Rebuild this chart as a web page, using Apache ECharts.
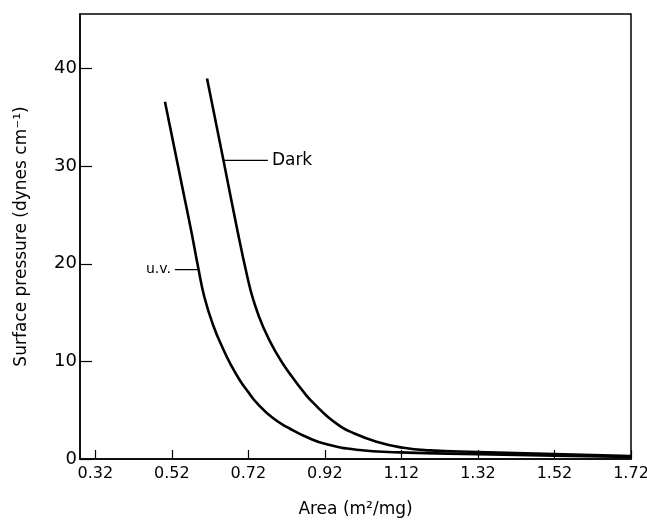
<!DOCTYPE html>
<html>
<head>
<meta charset="utf-8">
<script src="https://cdn.jsdelivr.net/npm/echarts@6/dist/echarts.min.js"></script>
<style>
html,body{margin:0;padding:0;background:#fff;}
#chart{width:647px;height:520px;}
</style>
</head>
<body>
<div id="chart"></div>
<script>
// values
var uvData=[[0.502,36.6],[0.554,26.6],[0.572,23.1],[0.589,19.6],[0.605,16.6],[0.628,13.7],[0.655,11.2],[0.675,9.6],[0.698,8.05],[0.72,6.85],[0.742,5.75],[0.785,4.17],[0.829,3.1],[0.872,2.25],[0.925,1.5],[1.003,0.95],[1.116,0.68],[1.32,0.5],[1.52,0.35],[1.72,0.2]];
var darkData=[[0.612,39.0],[0.655,30.6],[0.692,23.3],[0.716,18.9],[0.733,16.3],[0.759,13.5],[0.794,10.8],[0.829,8.7],[0.872,6.5],[0.90,5.35],[0.925,4.4],[0.955,3.5],[0.986,2.8],[1.055,1.77],[1.125,1.15],[1.195,0.88],[1.32,0.72],[1.52,0.5],[1.72,0.3]];
var darkLeader=[[0.655,30.6],[0.771,30.6]];
var uvLeader=[[0.528,19.4],[0.589,19.4]];
var xTicks=[0.32,0.52,0.72,0.92,1.12,1.32,1.52,1.72];
var yTicks=[0,10,20,30,40];

var font='DejaVu Sans';
var chart=echarts.init(document.getElementById('chart'));
chart.setOption({
    animation:false,
    textStyle:{fontFamily:font,color:'#000'},
    grid:{left:80,right:16,top:14,bottom:61,outerBoundsMode:'none',show:true,borderColor:'#000',borderWidth:1.5},
    xAxis:{
        type:'value',min:0.28,max:1.72,
        name:'Area (m²/mg)',nameLocation:'middle',nameGap:42,
        nameTextStyle:{fontSize:17,color:'#000',fontFamily:font},
        axisLine:{show:true,lineStyle:{color:'#000',width:1.5}},
        axisTick:{show:true,inside:true,length:9,customValues:xTicks,lineStyle:{color:'#000',width:1.2}},
        axisLabel:{show:true,customValues:xTicks,fontSize:16,color:'#000',margin:7,
            formatter:function(v){return v.toFixed(2);}},
        splitLine:{show:false}
    },
    yAxis:{
        type:'value',min:0,max:45.6,
        name:'Surface pressure (dynes cm⁻¹)',nameLocation:'middle',nameGap:50,
        nameTextStyle:{fontSize:17,color:'#000',fontFamily:font},
        axisLine:{show:true,lineStyle:{color:'#000',width:1.5}},
        axisTick:{show:true,inside:true,length:12,customValues:yTicks,lineStyle:{color:'#000',width:1.2}},
        axisLabel:{show:true,customValues:yTicks,fontSize:18,color:'#000',margin:3},
        splitLine:{show:false}
    },
    series:[
        {name:'u.v.',type:'line',data:uvData,smooth:0.5,showSymbol:false,
            lineStyle:{color:'#000',width:2.6}},
        {name:'Dark',type:'line',data:darkData,smooth:0.5,showSymbol:false,
            lineStyle:{color:'#000',width:2.6}},
        {type:'line',data:darkLeader,showSymbol:true,symbolSize:0,lineStyle:{color:'#000',width:1.3},
            label:{show:true,position:'right',distance:4,fontSize:17,color:'#000',
                formatter:function(p){return p.dataIndex===1?'Dark':'';}}},
        {type:'line',data:uvLeader,showSymbol:true,symbolSize:0,lineStyle:{color:'#000',width:1.3},
            label:{show:true,position:'left',distance:4,fontSize:14,color:'#000',
                formatter:function(p){return p.dataIndex===0?'u.v.':'';}}}
    ]
});
</script>
</body>
</html>
